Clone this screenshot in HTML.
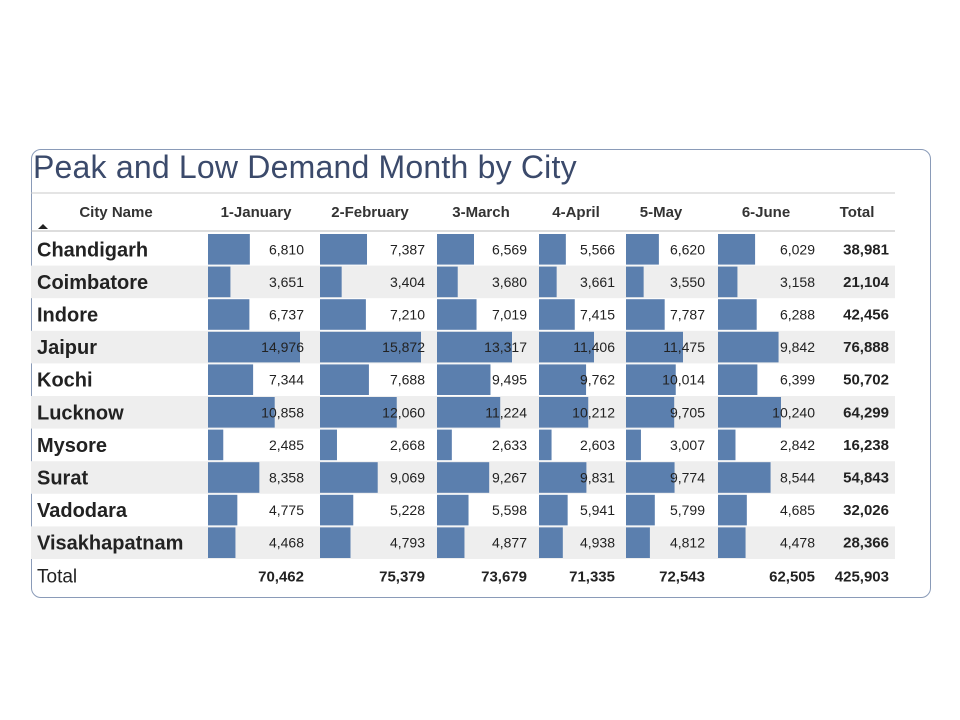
<!DOCTYPE html>
<html><head><meta charset="utf-8"><style>
body{margin:0;background:#fff;width:960px;height:720px;position:relative;overflow:hidden;font-family:"Liberation Sans",sans-serif}
#card{position:absolute;left:31px;top:149px;width:900px;height:449px;border:1.5px solid #8a9bb8;border-radius:10px;box-sizing:border-box}
#title{position:absolute;left:33px;top:149px;font-size:32px;color:#3b4a6b;white-space:nowrap;letter-spacing:0.2px}
</style></head><body>
<div id="card"></div>
<div id="title">Peak and Low Demand Month by City</div>
<svg id="tbl" width="960" height="720" style="position:absolute;left:0;top:0"></svg>
<script>
const cities=["Chandigarh","Coimbatore","Indore","Jaipur","Kochi","Lucknow","Mysore","Surat","Vadodara","Visakhapatnam"];
const months=["1-January","2-February","3-March","4-April","5-May","6-June"];
const jan=[6810,3651,6737,14976,7344,10858,2485,8358,4775,4468];
const feb=[7387,3404,7210,15872,7688,12060,2668,9069,5228,4793];
const mar=[6569,3680,7019,13317,9495,11224,2633,9267,5598,4877];
const apr=[5566,3661,7415,11406,9762,10212,2603,9831,5941,4938];
const may=[6620,3550,7787,11475,10014,9705,3007,9774,5799,4812];
const jun=[6029,3158,6288,9842,6399,10240,2842,8544,4685,4478];
const series=[jan,feb,mar,apr,may,jun];
const svg=document.getElementById('tbl');const NS="http://www.w3.org/2000/svg";
const colLeft=[208,320,437,539,626,718];
const colRight=[304,425,527,615,705,815];
const maxW=[92,101,75,55,57,63];
const hdrX=[256,370,481,576,661,766];
const rowTop=233,rowH=32.6;
function fmt(v){return v.toLocaleString('en-US');}
function el(tag,attrs,txt){const e=document.createElementNS(NS,tag);for(const k in attrs)e.setAttribute(k,attrs[k]);if(txt!==undefined)e.textContent=txt;svg.appendChild(e);return e;}
const yPos=i=>rowTop+i*rowH;
let l=el('line',{x1:31,x2:895,y1:193,y2:193,stroke:'#c8c8c8','stroke-width':1});


l=el('line',{x1:31,x2:895,y1:231,y2:231,stroke:'#bbb','stroke-width':1});


let t=el('text',{x:116,y:217,'font-size':15,'font-weight':'bold',fill:'#333','text-anchor':'middle'},'City Name');


let a=el('path',{d:'M38 229 L43 224 L48 229 Z',fill:'#222'});


months.forEach((m,j)=>{
 const h=el('text',{x:hdrX[j],y:217,'font-size':15,'font-weight':'bold',fill:'#333','text-anchor':'middle'},m);
 
 
});
t=el('text',{x:857,y:217,'font-size':15,'font-weight':'bold',fill:'#333','text-anchor':'middle'},'Total');


const colMax=series.map(s=>Math.max(...s));
cities.forEach((c,i)=>{
 const y=yPos(i);
 if(i%2===1){const r=el('rect',{x:31,y:y,width:864,height:rowH,fill:'#eeeeee'});
  
  }
 const ct=el('text',{x:37,y:y+rowH/2+7,'font-size':20,'font-weight':'bold',fill:'#222'},c);
 
 
 let tot=0;
 series.forEach((s,j)=>{
  const v=s[i];tot+=v;
  const b=el('rect',{x:colLeft[j],y:y+1,width:maxW[j]*v/colMax[j],height:rowH-2,fill:'#5b7fae'});
  
  
  const vt=el('text',{x:colRight[j],y:y+rowH/2+5,'font-size':14,fill:'#222','text-anchor':'end'},fmt(v));
  
  
 });
 const tt=el('text',{x:889,y:y+rowH/2+5,'font-size':15,'font-weight':'bold',fill:'#222','text-anchor':'end'},fmt(tot));
 
 
});
const ty=yPos(cities.length)+rowH/2+6;
t=el('text',{x:37,y:ty+1,'font-size':19,fill:'#222'},'Total');


let grand=0;
series.forEach((s,j)=>{const sum=s.reduce((p,q)=>p+q,0);grand+=sum;
 const st=el('text',{x:colRight[j],y:ty,'font-size':15,'font-weight':'bold',fill:'#222','text-anchor':'end'},fmt(sum));
 
 
});
t=el('text',{x:889,y:ty,'font-size':15,'font-weight':'bold',fill:'#222','text-anchor':'end'},fmt(grand));


</script>
</body></html>
